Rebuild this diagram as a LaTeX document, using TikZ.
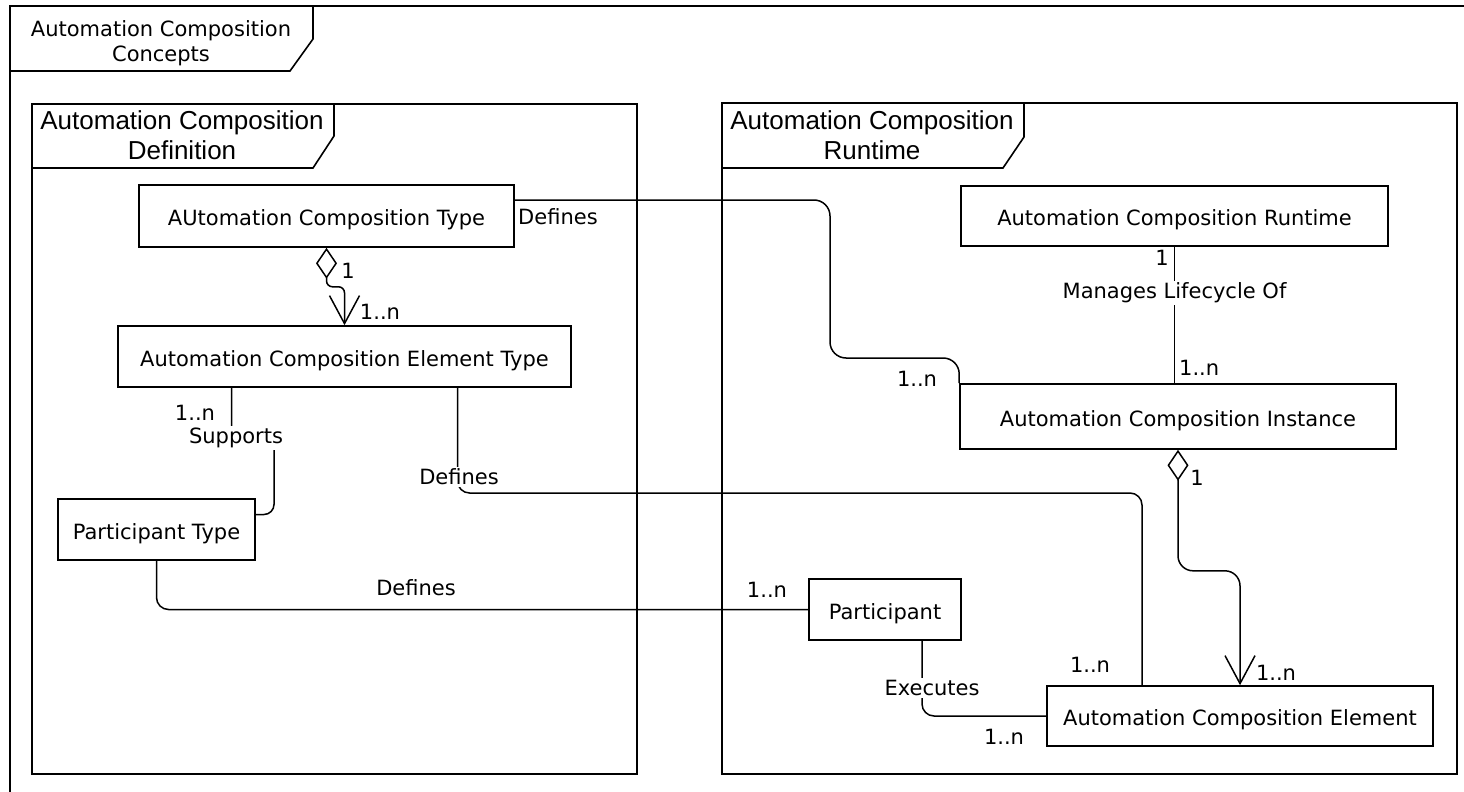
\documentclass[tikz,border=0pt]{standalone}
\usepackage{fontspec}
\setmainfont{DejaVu Sans}
\newfontfamily\frametitlefont{Liberation Sans}
\usetikzlibrary{arrows.meta}

\begin{document}
\begin{tikzpicture}[x=1pt,y=-1pt,
  every node/.style={font=\fontsize{21}{25}\selectfont, inner sep=0pt},
  entity/.style={draw, line width=1.6pt, align=center, fill=white, text height=24pt, text depth=5pt},
  frameline/.style={line width=1.6pt},
  conn/.style={draw, line width=1.5pt, rounded corners=12pt},
  lbl/.style={fill=white, inner sep=2pt},
  agg/.style={conn, {Diamond[open,length=31pt,width=21pt]}-{Straight Barb[length=28pt,width=30pt]}},
  bigtitle/.style={font=\frametitlefont\fontsize{26}{30}\selectfont, align=center},
  smalltitle/.style={align=center},
]
% canvas
\useasboundingbox (0,0) rectangle (1464,792);
\fill[white] (0,0) rectangle (1464,792);

% outer package frame with its name tab
\draw[frameline] (10,792) -- (10,6) -- (1464,6);
\draw[frameline] (10,71) -- (290,71) -- (313,39) -- (313,6);
\node[smalltitle] (tConcepts) at (161,43) {Automation Composition\\Concepts};

% definition package
\draw[frameline] (32,104) rectangle (637,774);
\draw[frameline] (32,168) -- (313,168) -- (334,136) -- (334,104);
\node[bigtitle] (tDefinition) at (182,135) {Automation Composition\\Definition};

% runtime package
\draw[frameline] (722,103) rectangle (1457,774);
\draw[frameline] (722,168) -- (1003,168) -- (1024,137) -- (1024,103);
\node[bigtitle] (tRuntime) at (872,135) {Automation Composition\\Runtime};

% classes
\node[entity, minimum width=375pt, minimum height=62pt] (act) at (326.5,216) {AUtomation Composition Type};
\node[entity, minimum width=453pt, minimum height=61pt] (acet) at (344.5,356.5) {Automation Composition Element Type};
\node[entity, minimum width=197pt, minimum height=61pt] (pt) at (156.5,529.5) {Participant Type};
\node[entity, minimum width=427pt, minimum height=60pt] (acr) at (1174.5,216) {Automation Composition Runtime};
\node[entity, minimum width=436pt, minimum height=65pt] (inst) at (1178,416.5) {Automation Composition Instance};
\node[entity, minimum width=152pt, minimum height=61pt] (part) at (885,609.5) {Participant};
\node[entity, minimum width=386pt, minimum height=60pt] (elem) at (1240,716) {Automation Composition Element};

% type aggregates element types
\draw[agg, rounded corners=6pt] (act.south) -- ++(0,39) -| (acet.north);
\node (m1) at (348,271) {1};
\node (m2) at (380,312) {1..n};

% type defines instances
\draw[conn, rounded corners=16pt] ([yshift=16pt]act.east) -| (830,358) -| (inst.north west);
\node[anchor=west] (d1) at (518,217) {Defines};
\node (m3) at (917,379) {1..n};

% runtime manages instances
\draw[conn] (acr.south) -- (acr.south |- inst.north);
\node[lbl] (d2) at (1174.5,293) {Manages Lifecycle Of};
\node[anchor=east] (m4) at (1169,258) {1};
\node[anchor=west] (m5) at (1179,368) {1..n};

% element types supported by participant types
\draw[conn, rounded corners=10pt] ([xshift=-113pt]acet.south) |- (274,437) |- ([yshift=15pt]pt.east);
\node[lbl] (d3) at (236,438) {Supports};
\node (m6) at (195,413) {1..n};

% element types define elements
\draw[conn] ([xshift=113pt]acet.south) |- (1142,493) -- ([xshift=-98pt]elem.north);
\node[lbl] (d4) at (459,477) {Defines};
\node (m7) at (1090,665) {1..n};

% participant types define participants
\draw[conn] (pt.south) |- (part.west);
\node (d5) at (416,588) {Defines};
\node (m8) at (767,590) {1..n};

% participants execute elements
\draw[conn] ([xshift=37pt]part.south) |- (elem.west);
\node[lbl] (d6) at (932,688) {Executes};
\node (m9) at (1004,737) {1..n};

% instance aggregates elements
\draw[agg, rounded corners=15pt] (inst.south) -- ++(0,121) -| (elem.north);
\node (m10) at (1197,478) {1};
\node (m11) at (1276,673) {1..n};
\end{tikzpicture}
\end{document}
